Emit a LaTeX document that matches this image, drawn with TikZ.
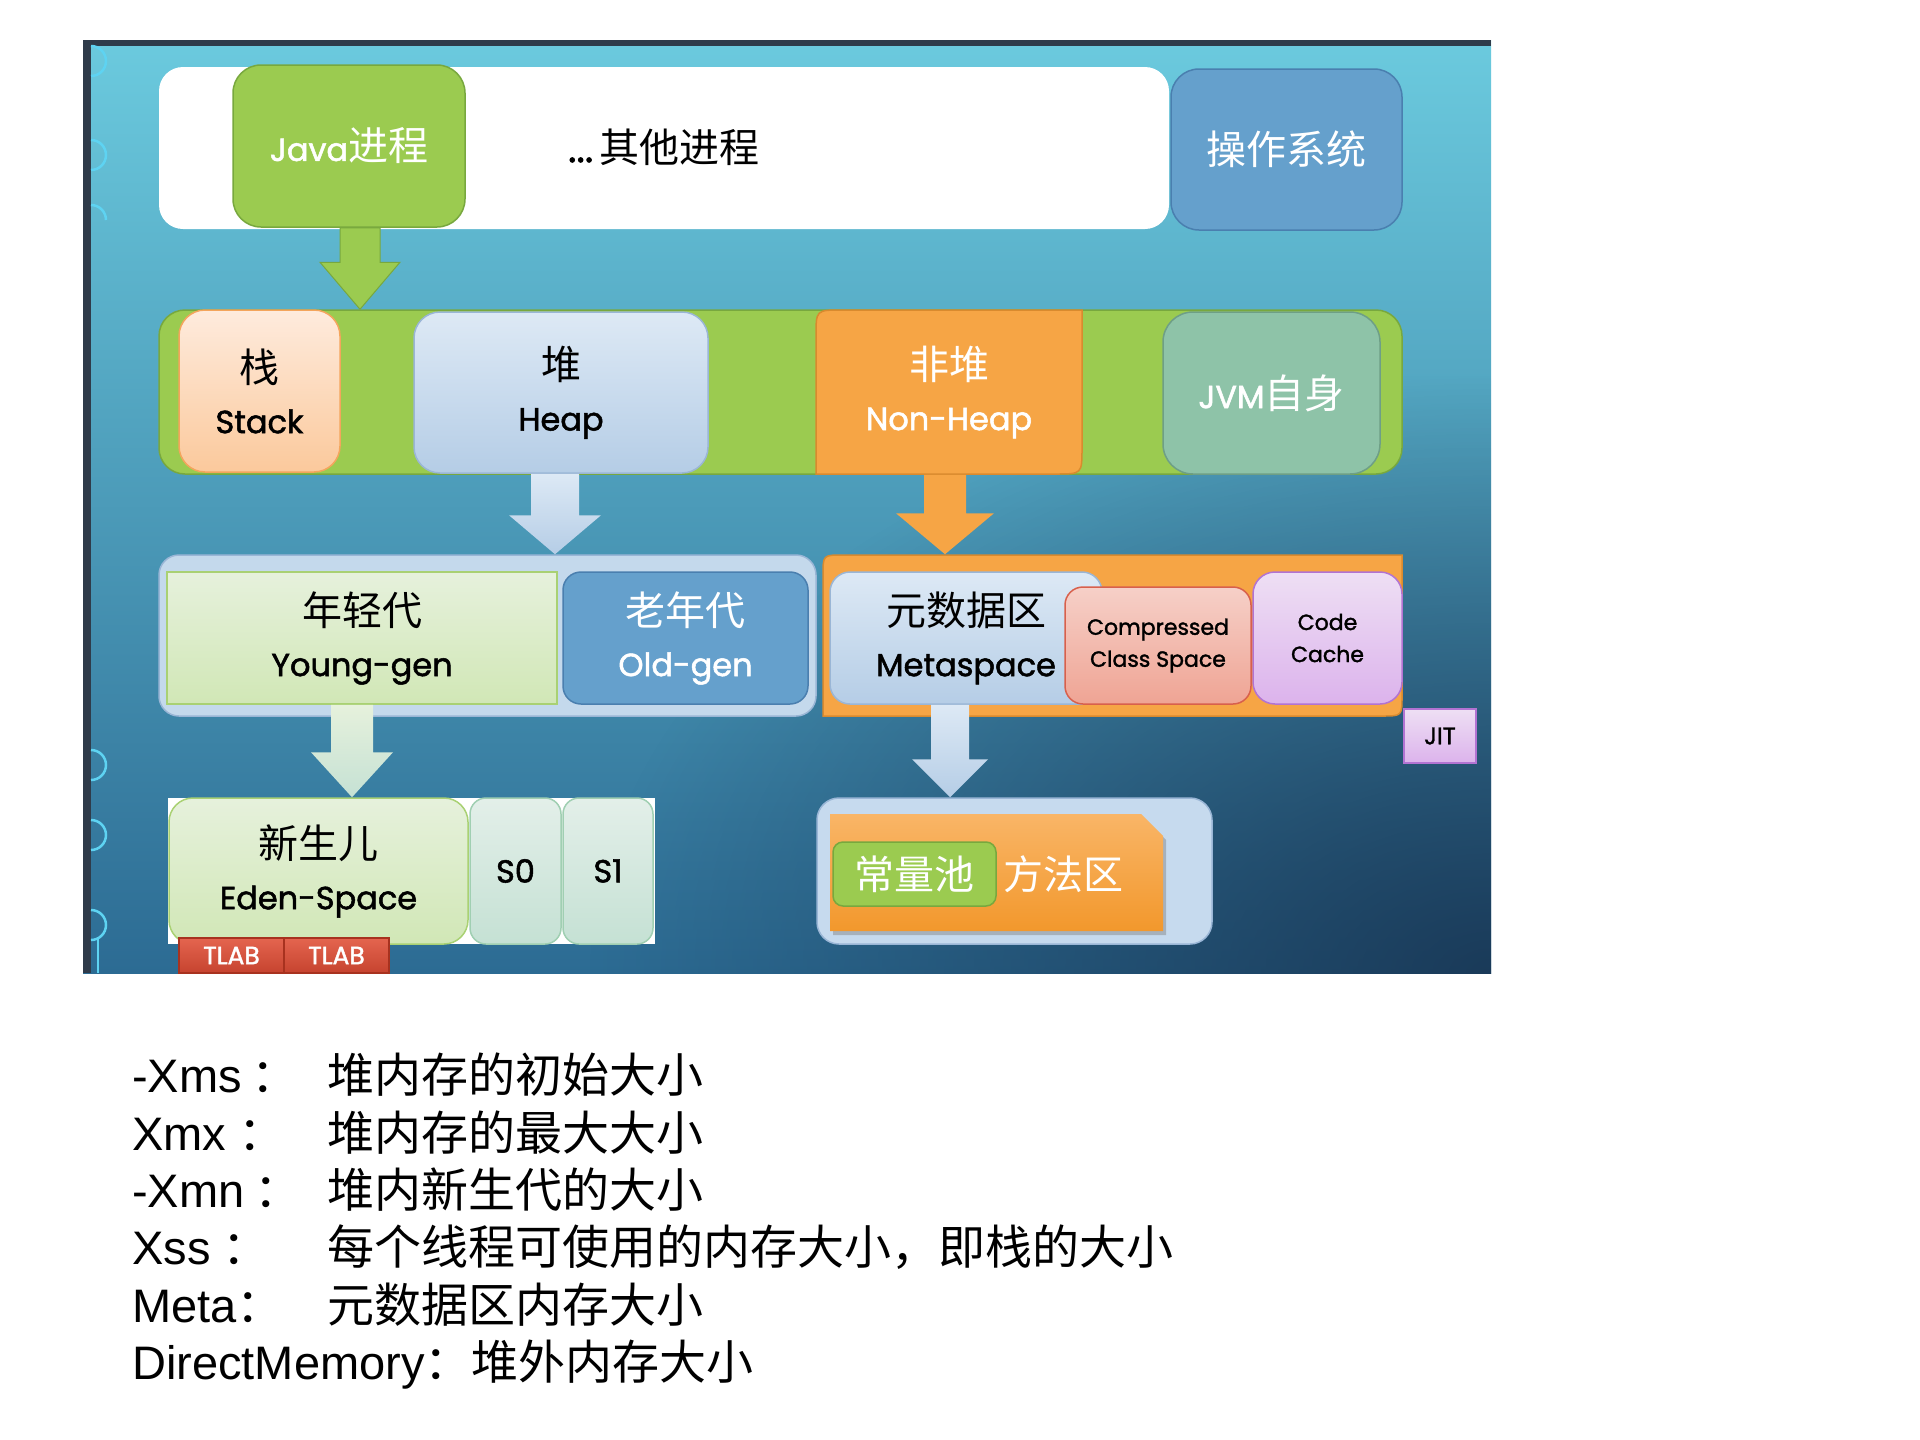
\documentclass[tikz,border=0pt]{standalone}
\usepackage{fontspec}
\setmainfont{Poppins}
\newfontfamily\popb{Poppins}[FakeBold=1.6]
\newfontfamily\cjk{Noto Sans CJK SC}
\newfontfamily\arialf{Liberation Sans}
\usetikzlibrary{calc,shadows,fadings}
\definecolor{bgA}{HTML}{6BCADE}
\definecolor{bgB}{HTML}{58B6D0}
\definecolor{bgC}{HTML}{2C6B93}
\definecolor{bgD}{HTML}{17324F}
\definecolor{frame}{HTML}{2F3B4A}
\definecolor{deco}{HTML}{5ED3F2}
\definecolor{jgreen}{HTML}{9BCB50}
\definecolor{jgreenD}{HTML}{78A83E}
\definecolor{osblue}{HTML}{65A0CC}
\definecolor{osblueD}{HTML}{4A7FAF}
\definecolor{peachT}{HTML}{FEEBDD}
\definecolor{peachB}{HTML}{FBC99C}
\definecolor{peachD}{HTML}{F4A55C}
\definecolor{lbT}{HTML}{DDE9F5}
\definecolor{lbB}{HTML}{B5CDE6}
\definecolor{lbD}{HTML}{9AB6D6}
\definecolor{orng}{HTML}{F6A545}
\definecolor{orngD}{HTML}{D98A2E}
\definecolor{tealc}{HTML}{8EC3A8}
\definecolor{tealD}{HTML}{6E9F86}
\definecolor{hcont}{HTML}{C4D9EC}
\definecolor{ygT}{HTML}{E6F1DC}
\definecolor{ygB}{HTML}{D1E7B6}
\definecolor{ygD}{HTML}{A9D173}
\definecolor{salT}{HTML}{F6D0C8}
\definecolor{salB}{HTML}{EFA494}
\definecolor{salD}{HTML}{D8604C}
\definecolor{lavT}{HTML}{EEDFF4}
\definecolor{lavB}{HTML}{DCB3EC}
\definecolor{lavD}{HTML}{B273D2}
\definecolor{sT}{HTML}{E3EFE9}
\definecolor{sB}{HTML}{C5E1D4}
\definecolor{sD}{HTML}{A0CFB2}
\definecolor{tlT}{HTML}{E4654F}
\definecolor{tlB}{HTML}{C6432F}
\definecolor{tlD}{HTML}{A8321F}
\definecolor{mcont}{HTML}{C6DAEE}
\definecolor{moT}{HTML}{F9B567}
\definecolor{moB}{HTML}{F2982C}
\tikzfading[name=cornerfade, inner color=transparent!15, outer color=transparent!100]
\newcommand\blkarrow[6]{%
  \path[#6] let \p1=(#1), \p2=(#2) in
   (\x1-#3pt,\y1) -- (\x1+#3pt,\y1) -- (\x1+#3pt,\y2+#5pt) -- (\x1+#4pt,\y2+#5pt)
   -- (\x1,\y2) -- (\x1-#4pt,\y2+#5pt) -- (\x1-#3pt,\y2+#5pt) -- cycle;}
\newcommand\cj[1]{{\cjk\fontsize{40}{51}\selectfont #1}}
\begin{document}
\begin{tikzpicture}[x=1pt,y=-1pt,
  bx/.style={inner sep=0pt, align=center, line width=1.5pt},
  lf/.style={font=\popb\fontsize{32}{51}\selectfont},
  sf/.style={font=\popb\fontsize{22}{32}\selectfont},
  cf/.style={font=\cjk\fontsize{40}{48}\selectfont},
  key/.style={anchor=base west, inner sep=0pt, font=\arialf\fontsize{47}{56}\selectfont},
  val/.style={anchor=base west, inner sep=0pt, font=\cjk\fontsize{47}{56}\selectfont},
  decoarc/.style={draw=deco, line width=2.5pt}
]
\useasboundingbox (0,0) rectangle (1920,1440);
\fill[white] (0,0) rectangle (1920,1440);
% panel background
\shade[top color=bgA, middle color=bgB, bottom color=bgC] (83,40) rectangle (1491,973);
\begin{scope}
  \clip (83,40) rectangle (1491,973);
  \fill[bgD, path fading=cornerfade, fit fading=true] (591,373) rectangle (2391,1573);
\end{scope}
\fill[frame] (83,40) rectangle (1491,46);
\fill[frame] (83,40) rectangle (91,973);
\foreach \yy in {61,155,765,835,925}
  \draw[decoarc] (91,\yy-15) arc[start angle=90,end angle=-90,radius=15pt];
\draw[decoarc] (91,205) arc[start angle=90,end angle=0,radius=15pt];
\draw[decoarc] (98,938) -- (98,973);

% top row
\node[bx, fill=white, rounded corners=24pt, minimum width=1010pt, minimum height=162pt] (proc) at (664,148) {};
\node[bx, draw=jgreenD, fill=jgreen, rounded corners=28pt, minimum width=232pt, minimum height=162pt, text=white, lf] (java) at (349,146) {Java\cj{进程}};
\node[inner sep=0pt, font=\popb\fontsize{40}{48}\selectfont] (others) at (664,147) {...\,\cj{其他进程}};
\node[bx, draw=osblueD, fill=osblue, rounded corners=28pt, minimum width=231pt, minimum height=161pt, text=white, cf] (os) at (1286.5,149.5) {操作系统};

% JVM bar
\node[bx, draw=jgreenD, fill=jgreen, rounded corners=26pt, minimum width=1243pt, minimum height=164pt] (bar) at (780.5,392) {};
\node[bx, draw=peachD, top color=peachT, bottom color=peachB, rounded corners=26pt, minimum width=161pt, minimum height=162pt, lf] (stack) at (259.5,391) {\cj{栈}\\Stack};
\node[bx, draw=lbD, top color=lbT, bottom color=lbB, rounded corners=26pt, minimum width=294pt, minimum height=161pt, lf] (heap) at (561,392.5) {\cj{堆}\\Heap};
\filldraw[draw=orngD, fill=orng, line width=1.5pt] (816,474) -- (816,336) .. controls (816,310) .. (842,310) -- (1082,310) -- (1082,448) .. controls (1082,474) .. (1056,474) -- cycle;
\node[bx, minimum width=266pt, minimum height=164pt, text=white, lf] (nonheap) at (949,392) {\cj{非堆}\\Non-Heap};
\node[bx, draw=tealD, fill=tealc, rounded corners=30pt, minimum width=217pt, minimum height=162pt, text=white, lf] (jvm) at (1271.5,393) {JVM\cj{自身}};

% heap / non-heap row
\node[bx, draw=lbD, fill=hcont, rounded corners=20pt, minimum width=657pt, minimum height=161pt] (heapc) at (487.5,635.5) {};
\node[bx, draw=ygD, top color=ygT, bottom color=ygB, minimum width=390pt, minimum height=132pt, lf] (young) at (362,638) {\cj{年轻代}\\Young-gen};
\node[bx, draw=osblueD, fill=osblue, rounded corners=18pt, minimum width=245pt, minimum height=132pt, text=white, lf] (old) at (685.5,638) {\cj{老年代}\\Old-gen};
\filldraw[draw=orngD, fill=orng, line width=1.5pt] (823,716) -- (823,575) .. controls (823,555) .. (843,555) -- (1402,555) -- (1402,696) .. controls (1402,716) .. (1382,716) -- cycle;
\node[bx, minimum width=579pt, minimum height=161pt] (nhc) at (1112.5,635.5) {};
\node[bx, draw=lbD, top color=lbT, bottom color=lbB, rounded corners=20pt, minimum width=272pt, minimum height=132pt, lf] (meta) at (966,638) {\cj{元数据区}\\Metaspace};
\node[bx, draw=salD, top color=salT, bottom color=salB, rounded corners=18pt, minimum width=186pt, minimum height=117pt, sf] (comp) at (1158,645.5) {Compressed\\Class Space};
\node[bx, draw=lavD, top color=lavT, bottom color=lavB, rounded corners=22pt, minimum width=149pt, minimum height=132pt, sf] (code) at (1327.5,638) {Code\\Cache};
\node[bx, draw=lavD, top color=lavT, bottom color=lavB, minimum width=72pt, minimum height=54pt, font=\popb\fontsize{24}{30}\selectfont] (jit) at (1440,736) {JIT};

% eden row
\node[bx, fill=white, minimum width=487pt, minimum height=146pt] (edenc) at (411.5,871) {};
\node[bx, draw=ygD, top color=ygT, bottom color=ygB, rounded corners=24pt, minimum width=299pt, minimum height=146pt, lf] (eden) at (318.5,871) {\cj{新生儿}\\Eden-Space};
\node[bx, draw=sD, top color=sT, bottom color=sB, rounded corners=16pt, minimum width=91pt, minimum height=146pt, lf] (s0) at (515.5,871) {S0};
\node[bx, draw=sD, top color=sT, bottom color=sB, rounded corners=16pt, minimum width=90pt, minimum height=146pt, lf] (s1) at (608,871) {S1};
\node[bx, draw=tlD, top color=tlT, bottom color=tlB, minimum width=105pt, minimum height=35pt, text=white, font=\popb\fontsize{25}{28}\selectfont] (tlab1) at (231.5,955.5) {TLAB};
\node[bx, draw=tlD, top color=tlT, bottom color=tlB, minimum width=105pt, minimum height=35pt, text=white, font=\popb\fontsize{25}{28}\selectfont] (tlab2) at (336.5,955.5) {TLAB};

% method area
\node[bx, draw=lbD, fill=mcont, rounded corners=22pt, minimum width=395pt, minimum height=146pt] (methodc) at (1014.5,871) {};
\shade[top color=moT, bottom color=moB, drop shadow={opacity=0.45, shadow xshift=3pt, shadow yshift=-4pt}] (830,814) -- (1141,814) -- (1163,836) -- (1163,931) -- (830,931) -- cycle;
\node[bx, draw=jgreenD, fill=jgreen, rounded corners=10pt, minimum width=163pt, minimum height=64pt, text=white, cf] (pool) at (914.5,874) {常量池};
\node[inner sep=0pt, text=white, cf] (marea) at (1063,874) {方法区};

% block arrows
\coordinate (ja) at ($(java.south)+(11,0)$);
\blkarrow{ja}{ja |- bar.north}{20}{40}{47}{fill=jgreen, draw=jgreenD, line width=1pt}
\coordinate (ha) at ($(heap.south)+(-6,0)$);
\blkarrow{ha}{ha |- heapc.north}{24}{46}{39}{top color=lbT, bottom color=lbB}
\coordinate (na) at ($(nonheap.south)+(-4,0)$);
\blkarrow{na}{na |- nhc.north}{21}{49}{41}{fill=orng}
\coordinate (ya) at ($(young.south)+(-10,0)$);
\blkarrow{ya}{ya |- eden.north}{21}{41}{45}{top color=ygT, bottom color=sB}
\coordinate (ma) at ($(meta.south)+(-16,0)$);
\blkarrow{ma}{ma |- methodc.north}{19}{38}{38}{top color=lbT, bottom color=lbB}

% legend text
\node[key] (k1) at (132,1092) {-Xms\hspace{10pt}{\cjk ：}};
\node[val] (v1) at (327,1092) {堆内存的初始大小};
\node[key] (k2) at (132,1150) {Xmx\hspace{12pt}{\cjk ：}};
\node[val] (v2) at (327,1150) {堆内存的最大大小};
\node[key] (k3) at (132,1207) {-Xmn\hspace{10pt}{\cjk ：}};
\node[val] (v3) at (327,1207) {堆内新生代的大小};
\node[key] (k4) at (132,1264) {Xss\hspace{12pt}{\cjk ：}};
\node[val] (v4) at (327,1264) {每个线程可使用的内存大小，即栈的大小};
\node[key] (k5) at (132,1322) {Meta{\cjk ：}};
\node[val] (v5) at (327,1322) {元数据区内存大小};
\node[key] (k6) at (132,1379) {DirectMemory{\cjk ：堆外内存大小}};
\end{tikzpicture}
\end{document}
